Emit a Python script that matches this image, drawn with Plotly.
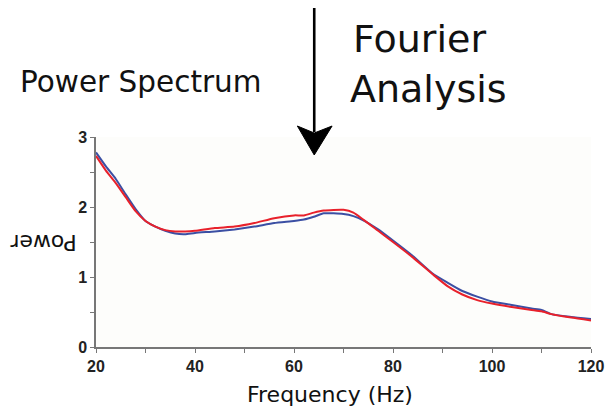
import plotly.graph_objects as go

freq = [20, 22, 24, 26, 28, 30, 32, 34, 36, 38, 40, 44, 48, 52, 56, 60, 62, 64, 66, 70,
        72, 74, 77, 80, 84, 88, 91, 94, 97, 100, 104, 108, 110, 112, 116, 120]
power_blue = [2.78, 2.58, 2.40, 2.18, 1.97, 1.80, 1.72, 1.66, 1.62, 1.61, 1.63, 1.65, 1.68,
              1.72, 1.77, 1.80, 1.82, 1.86, 1.91, 1.90, 1.87, 1.81, 1.68, 1.52, 1.30, 1.05,
              0.92, 0.80, 0.72, 0.65, 0.60, 0.55, 0.53, 0.47, 0.43, 0.40]
power_red = [2.73, 2.52, 2.34, 2.14, 1.94, 1.80, 1.72, 1.67, 1.65, 1.65, 1.66, 1.70, 1.72,
             1.77, 1.84, 1.88, 1.88, 1.92, 1.95, 1.96, 1.92, 1.82, 1.66, 1.50, 1.28, 1.04,
             0.87, 0.75, 0.67, 0.62, 0.57, 0.53, 0.51, 0.47, 0.42, 0.38]

x_ticks = [20, 30, 40, 50, 60, 70, 80, 90, 100, 110, 120]
x_labels = ["20", "", "40", "", "60", "", "80", "", "100", "", "120"]
y_ticks = [0, 0.5, 1, 1.5, 2, 2.5, 3]
y_labels = ["0", "", "1", "", "2", "", "3"]

W, H = 616, 412
L, R, T, B = 96, 21, 137, 65
pw, ph = W - L - R, H - T - B


def px(x):
    return (x - L) / pw


def py(y):
    return (H - B - y) / ph


def bold(labels):
    return ["<b>%s</b>" % s if s else "" for s in labels]


fig = go.Figure()
fig.add_trace(go.Scatter(x=freq, y=power_blue, mode="lines",
                         line=dict(color="#3b4fa3", width=2, shape="spline", smoothing=0.5),
                         name="blue"))
fig.add_trace(go.Scatter(x=freq, y=power_red, mode="lines",
                         line=dict(color="#e8212b", width=2, shape="spline", smoothing=0.5),
                         name="red"))

axis_font = dict(family="Liberation Sans", size=16, color="#222222")
common = dict(ticks="outside", ticklen=4, tickcolor="#777777", tickwidth=1.2,
              showline=True, linecolor="#777777", linewidth=1.5,
              showgrid=False, zeroline=False, tickfont=axis_font)
fig.update_xaxes(range=[20, 120], tickvals=x_ticks, ticktext=bold(x_labels), **common)
fig.update_yaxes(range=[0, 3], tickvals=y_ticks, ticktext=bold(y_labels), **common)

fig.update_layout(
    width=W, height=H, showlegend=False,
    margin=dict(l=L, r=R, t=T, b=B),
    paper_bgcolor="white", plot_bgcolor="#fdfdfb",
    font=dict(family="DejaVu Sans", color="#111111"),
)


def label(text, cx, cy, size, angle=0):
    fig.add_annotation(text=text, xref="paper", yref="paper",
                       x=px(cx), y=py(cy), xanchor="center", yanchor="middle",
                       showarrow=False, textangle=angle,
                       font=dict(family="DejaVu Sans", size=size, color="#111111"))


label("Frequency (Hz)", 332, 394, 22)
label("Power", 43, 243, 22, 180)
label("Power Spectrum", 141.5, 82, 29.5)
label("Fourier", 422.5, 39, 38)
label("Analysis", 431, 89, 38)

# arrow
fig.add_shape(type="line", xref="paper", yref="paper",
              x0=px(316), x1=px(316), y0=py(8), y1=py(132),
              line=dict(color="black", width=2.6))
path = "M {} {} L {} {} L {} {} L {} {} Z".format(
    px(299), py(126), px(316), py(155), px(334), py(126), px(316), py(133))
fig.add_shape(type="path", xref="paper", yref="paper", path=path,
              fillcolor="black", line=dict(color="black", width=1))

fig.write_html("out.html", config={"displayModeBar": False},
               post_script="document.body.style.margin='0';document.body.style.padding='0';")
